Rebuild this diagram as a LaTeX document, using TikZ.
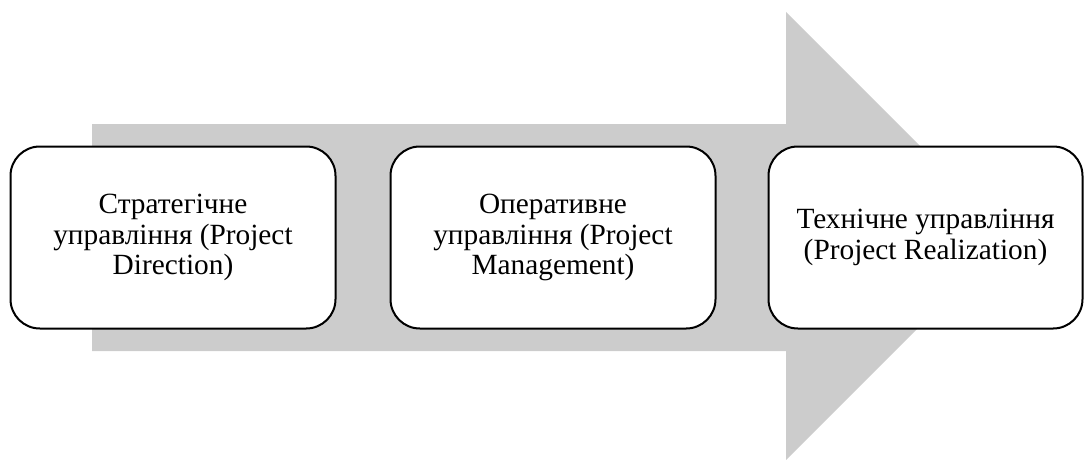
\documentclass[tikz,border=0pt]{standalone}
\usepackage{fontspec}
\setmainfont{Liberation Serif}
\definecolor{arrowgray}{HTML}{CCCCCC}
\begin{document}
\begin{tikzpicture}[x=0.75pt,y=-0.75pt,
  stage/.style={draw=black, line width=1.5pt, fill=white, rounded corners=22pt,
    minimum width=325*0.75pt, minimum height=182*0.75pt, align=center,
    font=\fontsize{22}{23}\selectfont, inner sep=0pt}]
\useasboundingbox (0,0) rectangle (1085,460);
\fill[arrowgray] (92,124) -- (786,124) -- (786,12) -- (1010,236) -- (786,460) -- (786,351) -- (92,351) -- cycle;
\node[stage] (s1) at (173,237.5) {Стратегічне\\управління (Project\\Direction)};
\node[stage] (s2) at (553,237.5) {Оперативне\\управління (Project\\Management)};
\node[stage, minimum width=314*0.75pt] (s3) at (925.5,237.5) {Технічне управління\\(Project Realization)};
\end{tikzpicture}
\end{document}
